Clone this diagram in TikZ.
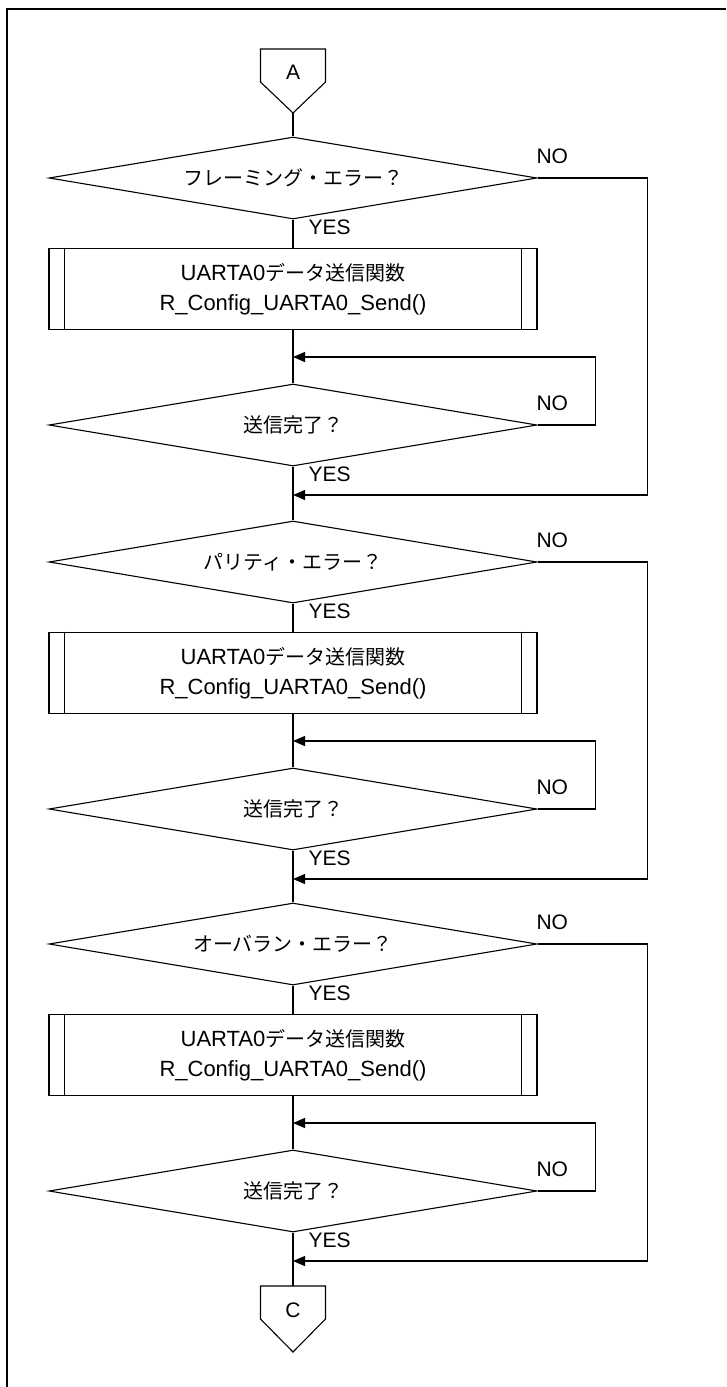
\documentclass[tikz,border=0pt]{standalone}
\usepackage{fontspec}
\setmainfont{Liberation Sans}
\newfontfamily\jp{Noto Sans CJK JP}
\usetikzlibrary{shapes.geometric,arrows.meta}
\begin{document}
\begin{tikzpicture}[x=1pt,y=-1pt,line width=1.1pt,
  every node/.style={font=\fontsize{21}{29}\selectfont, inner sep=0pt},
  jpf/.style={font=\fontsize{20}{24}\selectfont\jp},
  dec/.style={draw, diamond, aspect=5.95, minimum width=488pt, minimum height=82pt, jpf},
  proc/.style={draw, rectangle, minimum width=488pt, minimum height=81pt, align=center, font=\fontsize{22}{30}\selectfont},
  lbl/.style={anchor=west},
  flow/.style={-{Triangle[length=12pt,width=10pt]}},
  frameline/.style={line width=2.2pt}]
\useasboundingbox (0,0) rectangle (726,1387);
\draw[frameline] (7,1387) -- (7,9) -- (726,9);

% connector A
\coordinate (Atop) at (293,49);
\node (A) at (293,72) {A};
\draw (Atop) ++(-32.5,0) -- ++(65,0) -- ++(0,33) -- ++(-32.5,31) coordinate (Atip) -- ++(-32.5,-31) -- cycle;

\foreach \n/\b/\q in {1/178/{フレーミング・エラー？},2/562/{パリティ・エラー？},3/944/{オーバラン・エラー？}}{
  \node[dec] (e\n) at (293,\b) {\q};
  \node[proc] (p\n) at (293,\b+111) {UARTA0{\fontsize{20}{30}\selectfont\jp データ送信関数}\\R\_Config\_UARTA0\_Send()};
  \draw ([xshift=16pt]p\n.north west) -- ([xshift=16pt]p\n.south west);
  \draw ([xshift=-16pt]p\n.north east) -- ([xshift=-16pt]p\n.south east);
  \node[dec] (w\n) at (293,\b+247) {送信完了？};
  \coordinate (lp\n) at (293,\b+179);
  \coordinate (mg\n) at (293,\b+317);
  \draw (e\n.south) -- (p\n.north);
  \draw (p\n.south) -- (w\n.north);
  \draw[flow] (w\n.east) -- ++(58,0) |- (lp\n);
  \draw (w\n.south) -- (mg\n);
  \draw[flow] (e\n.east) -- ++(110,0) |- (mg\n);
  \node[lbl] (no\n) at (536,\b-22) {NO};
  \node[lbl] (yes\n) at (308,\b+49) {YES};
  \node[lbl] (nob\n) at (536,\b+225) {NO};
  \node[lbl] (yesb\n) at (308,\b+296) {YES};
}

% connector C
\coordinate (Ctop) at (293,1286);
\node (C) at (293,1310) {C};
\draw (Ctop) ++(-32.5,0) -- ++(65,0) -- ++(0,33) -- ++(-32.5,33) -- ++(-32.5,-33) -- cycle;

\draw (Atip) -- (e1.north);
\draw (mg1) -- (e2.north);
\draw (mg2) -- (e3.north);
\draw (mg3) -- (Ctop);
\end{tikzpicture}
\end{document}
